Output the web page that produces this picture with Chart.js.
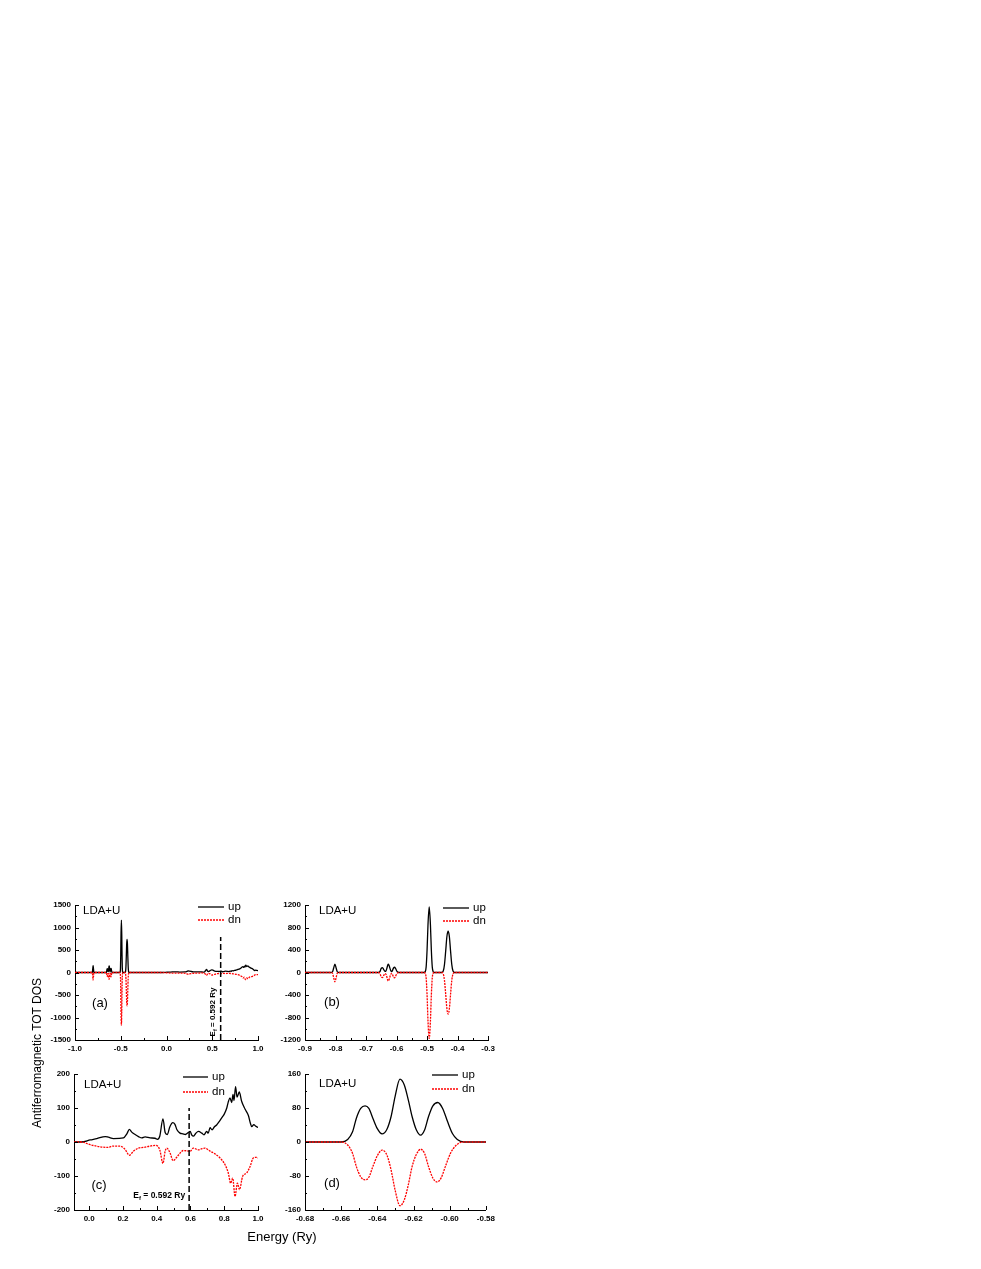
<!DOCTYPE html>
<html>
<head>
<meta charset="utf-8">
<script src="https://cdn.jsdelivr.net/npm/chart.js@4.4.0/dist/chart.umd.min.js"></script>
<style>
    body { margin: 0; background: #fff; }
    #page { position: relative; width: 981px; height: 1269px; font-family: "Liberation Sans", Arial, sans-serif; }
    #page canvas { position: absolute; }
    .ytitle { position: absolute; left: -63px; top: 1046px; width: 200px; text-align: center; font-size: 12px; transform: rotate(-90deg); }
    .xtitle { position: absolute; left: 222px; top: 1229px; width: 120px; text-align: center; font-size: 13px; }
</style>
</head>
<body>
<div id="page">
    <canvas id="pa" width="238" height="165" style="left:30px;top:895px"></canvas>
    <canvas id="pb" width="239" height="165" style="left:260px;top:895px"></canvas>
    <canvas id="pc" width="239" height="166" style="left:29px;top:1064px"></canvas>
    <canvas id="pd" width="239" height="166" style="left:260px;top:1064px"></canvas>
    <div class="ytitle">Antiferromagnetic TOT DOS</div>
    <div class="xtitle">Energy (Ry)</div>
</div>
<script>
// core levels (spin up / spin down), energy in Ry
const coreUpE = [-1.0, -0.815, -0.81, -0.806, -0.802, -0.798, -0.794, -0.789,
    -0.66, -0.6564, -0.6537, -0.6516, -0.6492, -0.6468, -0.6447, -0.6425, -0.6401, -0.6374, -0.6347,
    -0.6324, -0.6302, -0.6275, -0.6251, -0.6229, -0.6208, -0.6184, -0.6161, -0.6139, -0.6117,
    -0.6093, -0.6066, -0.6039, -0.6012, -0.5985, -0.5958, -0.5921,
    -0.510, -0.506, -0.503, -0.500, -0.497, -0.493, -0.489, -0.486, -0.483, -0.480, -0.477,
    -0.452, -0.447, -0.443, -0.439, -0.435, -0.431, -0.427, -0.423, -0.419, -0.415, -0.410, -0.09];
const coreUpV = [0, 0, 10, 80, 150, 80, 10, 0,
    0, 6, 24, 56, 79, 85, 79, 56, 32, 19, 30,
    60, 107, 148, 134, 99, 60, 28, 16, 28, 60,
    85, 93, 79, 48, 20, 6, 0,
    0, 15, 100, 400, 850, 1166, 850, 400, 100, 15, 0,
    0, 25, 140, 380, 640, 735, 640, 380, 140, 25, 0, 0];
const coreDnE = [-1.0, -0.815, -0.81, -0.806, -0.802, -0.798, -0.794, -0.789,
    -0.66, -0.6564, -0.6537, -0.6516, -0.6492, -0.6468, -0.6447, -0.6425, -0.6401, -0.6374, -0.6347,
    -0.6324, -0.6302, -0.6275, -0.6251, -0.6229, -0.6208, -0.6184, -0.6161, -0.6139, -0.6117,
    -0.6093, -0.607, -0.6048, -0.6021, -0.5994, -0.5967, -0.593,
    -0.510, -0.506, -0.503, -0.500, -0.497, -0.493, -0.489, -0.486, -0.483, -0.480, -0.477,
    -0.452, -0.447, -0.443, -0.439, -0.435, -0.431, -0.427, -0.423, -0.419, -0.415, -0.410, -0.09];
const coreDnV = [0, 0, -12, -90, -166, -90, -12, 0,
    0, -7, -27, -58, -82, -89, -83, -58, -33, -19, -31,
    -66, -113, -150, -136, -101, -58, -29, -17, -27, -58,
    -85, -94, -85, -54, -25, -9, 0,
    0, -15, -100, -400, -860, -1172, -860, -400, -100, -15, 0,
    0, -25, -140, -385, -645, -740, -645, -385, -140, -25, 0, 0];

// valence band
const valUpE = [-0.045, 0.006, 0.045, 0.095, 0.114, 0.144, 0.203, 0.223, 0.238, 0.252, 0.272, 0.292, 0.312,
    0.331, 0.361, 0.39, 0.404, 0.418, 0.437, 0.45, 0.462, 0.478, 0.495, 0.508, 0.52, 0.538, 0.555, 0.57,
    0.585, 0.598, 0.608, 0.617, 0.632, 0.647, 0.667, 0.68, 0.696, 0.705, 0.716, 0.728, 0.742, 0.755,
    0.77, 0.785, 0.80, 0.815, 0.824, 0.834, 0.844, 0.852, 0.858, 0.867, 0.876, 0.889, 0.903, 0.923,
    0.943, 0.955, 0.963, 0.975, 0.988, 1.0];
const valUpV = [0, 6, 10, 16, 14, 10, 12, 24, 37, 29, 22, 16, 12,
    15, 12, 11, 8, 17, 68, 28, 22, 45, 57, 52, 36, 26, 24, 22,
    27, 31, 20, 17, 26, 31, 26, 21, 31, 26, 42, 36, 45, 50,
    60, 71, 82, 100, 118, 130, 116, 140, 122, 163, 132, 147, 120, 97,
    78, 55, 45, 51, 46, 43];
const valDnE = [-0.045, 0.006, 0.065, 0.104, 0.144, 0.183, 0.213, 0.238, 0.262, 0.292, 0.321, 0.361, 0.396,
    0.418, 0.437, 0.45, 0.46, 0.479, 0.497, 0.51, 0.528, 0.558, 0.598, 0.617, 0.647, 0.665, 0.686,
    0.716, 0.745, 0.775, 0.805, 0.824, 0.838, 0.85, 0.864, 0.878, 0.89, 0.909, 0.933, 0.953, 0.972,
    0.992, 1.0];
const valDnV = [0, -8, -14, -16, -12, -12, -22, -39, -27, -18, -16, -12, -10,
    -23, -63, -27, -18, -32, -55, -50, -39, -25, -27, -18, -23, -20, -18,
    -27, -35, -47, -67, -91, -121, -106, -160, -121, -140, -101, -91, -72, -47,
    -45, -47];

const fermiEnergy = 0.592;

const aXTicks = [-1.0, -0.5, 0.0, 0.5, 1.0];
const aYTicks = [-1500, -1000, -500, 0, 500, 1000, 1500];
const bXTicks = [-0.9, -0.8, -0.7, -0.6, -0.5, -0.4, -0.3];
const bYTicks = [-1200, -800, -400, 0, 400, 800, 1200];
const cXTicks = [0.0, 0.2, 0.4, 0.6, 0.8, 1.0];
const cYTicks = [-200, -100, 0, 100, 200];
const dXTicks = [-0.68, -0.66, -0.64, -0.62, -0.60, -0.58];
const dYTicks = [-160, -80, 0, 80, 160];

const fontFamily = '"Liberation Sans", Arial, sans-serif';

function toPoints(e, v) {
    return e.map(function (x, i) { return { x: x, y: v[i] }; });
}

const upData = toPoints(coreUpE.concat(valUpE), coreUpV.concat(valUpV));
const dnData = toPoints(coreDnE.concat(valDnE), coreDnV.concat(valDnV));

function drawEf(ctx, size, align) {
    ctx.font = 'bold ' + size + 'px ' + fontFamily;
    let wE = ctx.measureText('E').width;
    let wRest = ctx.measureText(' = 0.592 Ry').width;
    ctx.font = 'bold ' + (size * 0.7) + 'px ' + fontFamily;
    let wf = ctx.measureText('f').width;
    let total = wE + wf + wRest;
    let x = align === 'right' ? -total : -total / 2;
    ctx.textAlign = 'left';
    ctx.textBaseline = 'middle';
    ctx.font = 'bold ' + size + 'px ' + fontFamily;
    ctx.fillText('E', x, 0);
    ctx.font = 'bold ' + (size * 0.7) + 'px ' + fontFamily;
    ctx.fillText('f', x + wE, size * 0.3);
    ctx.font = 'bold ' + size + 'px ' + fontFamily;
    ctx.fillText(' = 0.592 Ry', x + wE + wf, 0);
}

function drawInwardTicks(ctx, scale, ticks, axis, area) {
    let marks = [];
    ticks.forEach(function (t, i) {
        marks.push([t, 4]);
        if (i < ticks.length - 1) {
            marks.push([(t + ticks[i + 1]) / 2, 2]);
        }
    });
    ctx.beginPath();
    marks.forEach(function (m) {
        let p = Math.round(scale.getPixelForValue(m[0])) + 0.5;
        if (axis === 'x') {
            ctx.moveTo(p, area.bottom);
            ctx.lineTo(p, area.bottom - m[1]);
        } else {
            ctx.moveTo(area.left, p);
            ctx.lineTo(area.left + m[1], p);
        }
    });
    ctx.stroke();
}

const decor = {
    id: 'decor',
    afterDraw: function (chart, args, o) {
        const ctx = chart.ctx;
        const a = chart.chartArea;
        ctx.save();
        ctx.strokeStyle = '#000';
        ctx.lineWidth = 1;
        drawInwardTicks(ctx, chart.scales.x, o.xTicks, 'x', a);
        drawInwardTicks(ctx, chart.scales.y, o.yTicks, 'y', a);

        ctx.fillStyle = '#000';
        ctx.textBaseline = 'middle';
        ctx.textAlign = 'left';
        ctx.font = '11.5px ' + fontFamily;
        ctx.fillText('LDA+U', a.left + o.ldaX, a.top + o.ldaY);

        // legend
        ctx.lineWidth = 1.3;
        ctx.beginPath();
        ctx.moveTo(a.left + o.legX0, a.top + o.upY);
        ctx.lineTo(a.left + o.legX1, a.top + o.upY);
        ctx.stroke();
        ctx.strokeStyle = '#ff0000';
        ctx.setLineDash([2, 1]);
        ctx.beginPath();
        ctx.moveTo(a.left + o.legX0, a.top + o.dnY);
        ctx.lineTo(a.left + o.legX1, a.top + o.dnY);
        ctx.stroke();
        ctx.setLineDash([]);
        ctx.font = '11.5px ' + fontFamily;
        ctx.fillText('up', a.left + o.legX1 + 4, a.top + o.upY);
        ctx.fillText('dn', a.left + o.legX1 + 4, a.top + o.dnY);

        ctx.font = '13px ' + fontFamily;
        ctx.textAlign = 'center';
        ctx.fillText(o.tag, a.left + o.tagX, a.bottom + o.tagY);

        if (o.ef) {
            let lx = chart.scales.x.getPixelForValue(fermiEnergy);
            ctx.save();
            if (o.ef === 'rotated') {
                ctx.translate(lx - 8, a.bottom - 28);
                ctx.rotate(-Math.PI / 2);
                drawEf(ctx, 8, 'center');
            } else {
                ctx.translate(lx - 4, a.bottom - 14);
                drawEf(ctx, 8.5, 'right');
            }
            ctx.restore();
        }
        ctx.restore();
    }
};

function makePanel(p) {
    let datasets = [
        {
            label: 'up',
            data: upData,
            borderColor: '#000000',
            borderWidth: 1.3,
            pointRadius: 0,
            cubicInterpolationMode: 'monotone',
            order: 2,
        },
        {
            label: 'dn',
            data: dnData,
            borderColor: '#ff0000',
            borderWidth: 1.3,
            borderDash: [2, 1],
            pointRadius: 0,
            cubicInterpolationMode: 'monotone',
            order: 1,
        }];
    if (p.efTop !== undefined) {
        datasets.push({
            label: 'Ef',
            data: [{ x: fermiEnergy, y: p.yMin }, { x: fermiEnergy, y: p.efTop }],
            borderColor: '#000000',
            borderWidth: 1.5,
            borderDash: [6, 3],
            pointRadius: 0,
            order: 0,
        });
    }
    const tickFont = { family: fontFamily, size: 8, weight: 'bold' };
    new Chart(document.getElementById(p.id), {
        type: 'line',
        data: { datasets: datasets },
        plugins: [decor],
        options: {
            responsive: false,
            animation: false,
            events: [],
            layout: { padding: { top: 10, right: 10, left: 0, bottom: 0 } },
            plugins: {
                legend: { display: false },
                tooltip: { enabled: false },
                decor: p.decor,
            },
            scales: {
                x: {
                    type: 'linear',
                    min: p.xMin,
                    max: p.xMax,
                    afterBuildTicks: function (s) { s.ticks = p.decor.xTicks.map(function (v) { return { value: v }; }); },
                    afterFit: function (s) { s.height = 20; },
                    grid: { display: false, drawTicks: false },
                    border: { display: true, color: '#000', width: 1 },
                    ticks: {
                        color: '#000',
                        font: tickFont,
                        padding: 4,
                        maxRotation: 0,
                        autoSkip: false,
                        callback: function (v) { return Number(v).toFixed(p.digits); }
                    }
                },
                y: {
                    min: p.yMin,
                    max: p.yMax,
                    afterBuildTicks: function (s) { s.ticks = p.decor.yTicks.map(function (v) { return { value: v }; }); },
                    afterFit: function (s) { s.width = 45; },
                    grid: { display: false, drawTicks: false },
                    border: { display: true, color: '#000', width: 1 },
                    ticks: {
                        color: '#000',
                        font: tickFont,
                        padding: 4,
                        callback: function (v) { return String(Math.round(v)); }
                    }
                }
            }
        }
    });
}

makePanel({
    id: 'pa', xMin: -1.0, xMax: 1.0, yMin: -1500, yMax: 1500, digits: 1, efTop: 790,
    decor: { xTicks: aXTicks, yTicks: aYTicks, tag: '(a)', ldaX: 8, ldaY: 6, legX0: 123, legX1: 149, upY: 2, dnY: 15, tagX: 25, tagY: -37, ef: 'rotated' }
});
makePanel({
    id: 'pb', xMin: -0.9, xMax: -0.3, yMin: -1200, yMax: 1200, digits: 1,
    decor: { xTicks: bXTicks, yTicks: bYTicks, tag: '(b)', ldaX: 14, ldaY: 6, legX0: 138, legX1: 164, upY: 3, dnY: 16, tagX: 27, tagY: -38 }
});
makePanel({
    id: 'pc', xMin: -0.09, xMax: 1.0, yMin: -200, yMax: 200, digits: 1, efTop: 100,
    decor: { xTicks: cXTicks, yTicks: cYTicks, tag: '(c)', ldaX: 10, ldaY: 11, legX0: 109, legX1: 134, upY: 3, dnY: 18, tagX: 25, tagY: -25, ef: 'flat' }
});
makePanel({
    id: 'pd', xMin: -0.68, xMax: -0.58, yMin: -160, yMax: 160, digits: 2,
    decor: { xTicks: dXTicks, yTicks: dYTicks, tag: '(d)', ldaX: 14, ldaY: 10, legX0: 127, legX1: 153, upY: 1, dnY: 15, tagX: 27, tagY: -27 }
});
</script>
</body>
</html>
